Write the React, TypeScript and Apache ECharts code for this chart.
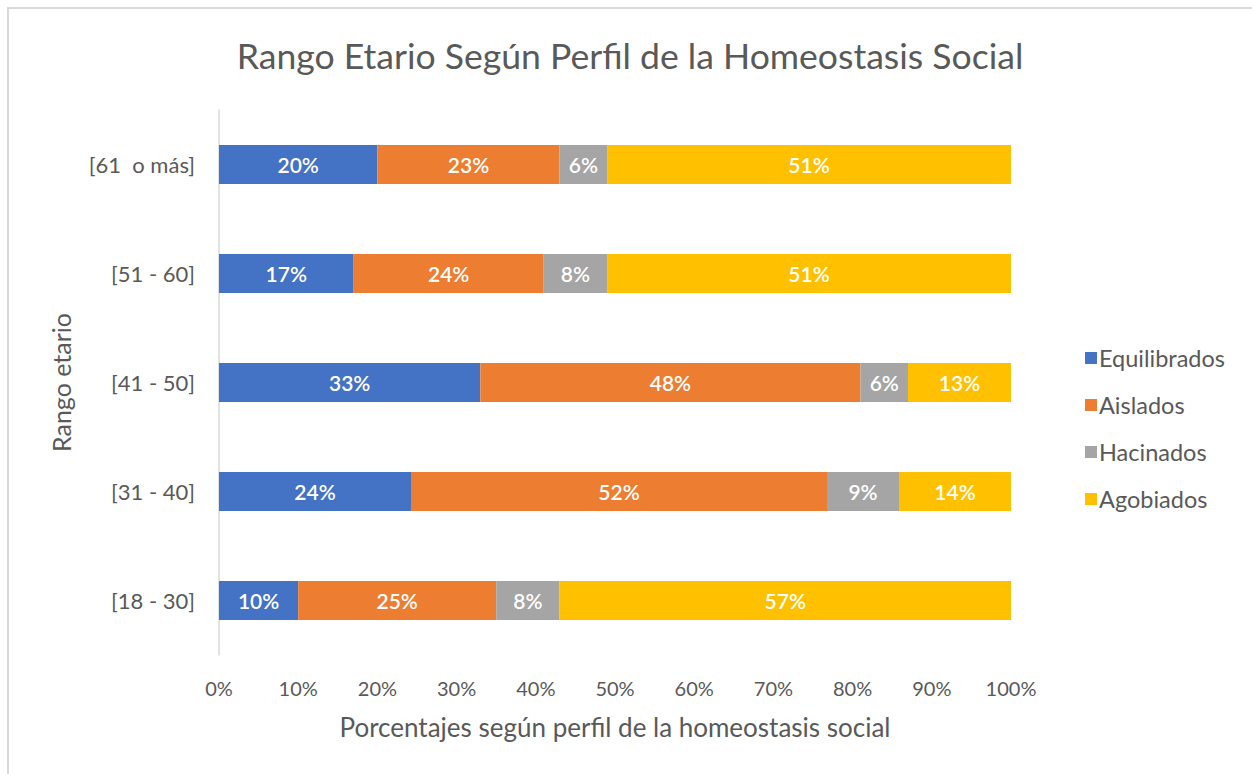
import React, { useEffect, useRef } from "react";
import * as echarts from "echarts";

const categories = ["[18 - 30]", "[31 - 40]", "[41 - 50]", "[51 - 60]", "[61  o más]"];
const seriesNames = ["Equilibrados", "Aislados", "Hacinados", "Agobiados"];
const equilibrados = [10, 24, 33, 17, 20];
const aislados = [25, 52, 48, 24, 23];
const hacinados = [8, 9, 6, 8, 6];
const agobiados = [57, 14, 13, 51, 51];
const colors = ["#4472C4", "#ED7D31", "#A5A5A5", "#FFC000"];
const xTicks = [0, 10, 20, 30, 40, 50, 60, 70, 80, 90, 100];

const FONT = "Lato, 'Open Sans', sans-serif";

export default function App() {
  const ref = useRef<HTMLDivElement>(null);
  useEffect(() => {
    if (!ref.current) return;
    const chart = echarts.init(ref.current, null, { renderer: "svg" });
    const raw = [equilibrados, aislados, hacinados, agobiados];
    const totals = categories.map((_, i) => raw.reduce((s, arr) => s + arr[i], 0));
    const series = raw.map((arr, si) => ({
      name: seriesNames[si],
      type: "bar",
      stack: "total",
      barWidth: 39,
      data: arr.map((v, i) => ({ value: (v / totals[i]) * 100, raw: v })),
      itemStyle: { color: colors[si] },
      label: {
        show: true,
        position: "inside",
        color: "#ffffff",
        fontFamily: FONT,
        fontSize: 21,
        fontWeight: 600,
        formatter: (p: any) => `${p.data.raw}%`,
      },
    }));
    chart.setOption({
      animation: false,
      backgroundColor: "#ffffff",
      title: {
        text: "Rango Etario Según Perfil de la Homeostasis Social",
        left: 625,
        top: 32,
        textAlign: "center",
        textStyle: { fontFamily: FONT, fontSize: 35.6, fontWeight: "normal", color: "#595959" },
      },
      legend: {
        orient: "vertical",
        left: 1080,
        top: 341,
        itemWidth: 12,
        itemHeight: 12,
        itemGap: 23,
        icon: "rect",
        data: seriesNames,
        textStyle: { fontFamily: FONT, fontSize: 23.5, color: "#595959", padding: [0, 0, 0, -3] },
      },
      grid: { left: 219, right: 241, top: 110, bottom: 119, containLabel: false },
      xAxis: {
        type: "value",
        min: 0,
        max: 100,
        interval: 10,
        axisLine: { show: false },
        axisTick: { show: false },
        splitLine: { show: false },
        axisLabel: {
          formatter: (v: number) => (xTicks.includes(v) ? `${v}%` : ""),
          fontFamily: FONT,
          fontSize: 20,
          color: "#595959",
          margin: 23,
        },
        name: "Porcentajes según perfil de la homeostasis social",
        nameLocation: "middle",
        nameGap: 59,
        nameTextStyle: { fontFamily: FONT, fontSize: 26, color: "#595959" },
      },
      yAxis: {
        type: "category",
        data: categories,
        axisLine: { show: true, lineStyle: { color: "#D9D9D9", width: 1.5 } },
        axisTick: { show: false },
        axisLabel: { fontFamily: FONT, fontSize: 22, color: "#595959", margin: 24 },
        name: "Rango etario",
        nameLocation: "middle",
        nameGap: 146,
        nameRotate: 90,
        nameTextStyle: { fontFamily: FONT, fontSize: 25, color: "#595959" },
      },
      graphic: [
        {
          type: "rect",
          shape: { x: 8, y: 8, width: 1300, height: 800 },
          style: { fill: "none", stroke: "#D9D9D9", lineWidth: 2 },
          silent: true,
        },
      ],
      series,
    });
    return () => chart.dispose();
  }, []);
  return (
    <div
      ref={ref}
      style={{ position: "absolute", left: 0, top: 0, width: 1252, height: 774 }}
    />
  );
}
